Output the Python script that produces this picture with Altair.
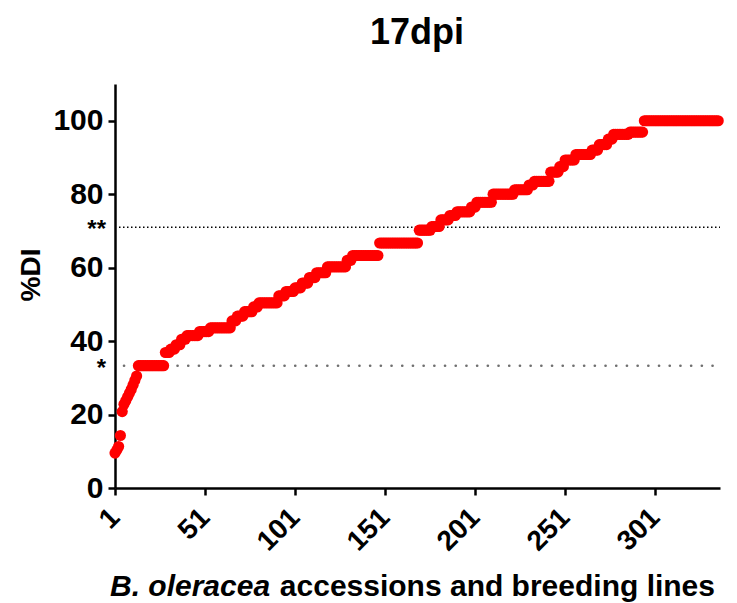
import altair as alt
import pandas as pd

# Sorted %DI values (value, count)
run_values = [9.5, 10.3, 11.3, 14.3, 20.8, 22.8, 23.8, 24.8, 25.8, 26.8, 28.0, 29.3, 30.5,
              33.3, 36.9, 37.8, 39.0, 40.5, 41.5, 42.6, 43.6, 45.5, 46.8, 48.0, 49.3,
              50.4, 52.3, 53.5, 54.5, 55.8, 57.3, 58.6, 60.2, 62.0, 63.3, 66.7,
              70.2, 71.2, 73.0, 74.2, 75.2, 76.5, 77.8, 80.0, 81.2, 82.5, 83.5,
              86.0, 87.5, 89.3, 90.8, 92.0, 93.5, 95.0, 96.3, 96.9, 100.0]
run_counts = [1, 1, 1, 1, 1, 1, 1, 1, 1, 1, 1, 1, 1,
              15, 3, 3, 3, 3, 7, 6, 12, 3, 4, 5, 3,
              11, 4, 5, 4, 4, 4, 6, 11, 3, 15, 22,
              7, 5, 5, 4, 8, 3, 9, 12, 8, 3, 9,
              5, 3, 6, 9, 4, 5, 3, 9, 8, 42]

x_ticks = [1, 51, 101, 151, 201, 251, 301]
y_ticks = [0, 20, 40, 60, 80, 100]
thresholds = [71.0, 33.3]
threshold_labels = ["**", "*"]

di = []
for v, c in zip(run_values, run_counts):
    di.extend([v] * c)
df = pd.DataFrame({"idx": list(range(1, len(di) + 1)), "di": di})

FONT = "Liberation Sans"
xs = alt.Scale(domain=[1, 337], nice=False, zero=False)
ys = alt.Scale(domain=[0, 110], nice=False)

points = alt.Chart(df).mark_circle(size=125, color="#FF0000", opacity=1).encode(
    x=alt.X("idx:Q", scale=xs,
            axis=alt.Axis(values=x_ticks, title=None, labelAngle=-45, labelAlign="right",
                          labelBaseline="middle", labelFontSize=28, labelPadding=18,
                          labelFlush=False, labelOverlap=False)),
    y=alt.Y("di:Q", scale=ys,
            axis=alt.Axis(values=y_ticks, title=None, labelFontSize=30, labelPadding=5)),
)

line2 = alt.Chart(pd.DataFrame({"y": [thresholds[0]]})).mark_rule(
    color="black", strokeWidth=1.3, strokeDash=[1.5, 2.5]
).encode(y=alt.Y("y:Q", scale=ys), x=alt.value(4), x2=alt.value(605))

line1 = alt.Chart(pd.DataFrame({"y": [thresholds[1]]})).mark_rule(
    color="#6f6f6f", strokeWidth=2.6, strokeDash=[0.1, 10.6], strokeCap="round"
).encode(y=alt.Y("y:Q", scale=ys), x=alt.value(9), x2=alt.value(605))

star_df = pd.DataFrame({"y": thresholds, "t": threshold_labels})
stars = alt.Chart(star_df).mark_text(
    font=FONT, fontSize=24, fontWeight="bold", align="right", baseline="middle", dy=3, color="black"
).encode(y=alt.Y("y:Q", scale=ys), x=alt.value(-9), text="t:N")

title = alt.Chart(pd.DataFrame({"t": ["17dpi"]})).mark_text(
    font=FONT, fontSize=36, fontWeight="bold", align="center", baseline="alphabetic", color="black"
).encode(x=alt.value(302), y=alt.value(-40), text="t:N")

ytitle = alt.Chart(pd.DataFrame({"t": ["%DI"]})).mark_text(
    font=FONT, fontSize=28, fontWeight="bold", align="center", baseline="middle", angle=270, color="black"
).encode(x=alt.value(-83), y=alt.value(191), text="t:N")

xt1 = alt.Chart(pd.DataFrame({"t": ["B. oleracea"]})).mark_text(
    font=FONT, fontSize=30, fontWeight="bold", fontStyle="italic", align="left",
    baseline="alphabetic", color="black"
).encode(x=alt.value(-5), y=alt.value(512), text="t:N")

xt2 = alt.Chart(pd.DataFrame({"t": ["accessions and breeding lines"]})).mark_text(
    font=FONT, fontSize=30, fontWeight="bold", align="right",
    baseline="alphabetic", color="black"
).encode(x=alt.value(600), y=alt.value(512), text="t:N")

chart = alt.layer(line1, line2, points, stars, title, ytitle, xt1, xt2).properties(
    width=605, height=404,
    autosize=alt.AutoSizeParams(type="none"),
    padding={"left": 115, "top": 84, "right": 17, "bottom": 115},
    background="white",
).configure_view(stroke=None).configure_axis(
    grid=False, domainColor="black", domainWidth=2.5, tickColor="black", tickWidth=2.5,
    tickSize=7, labelColor="black", labelFont=FONT, labelFontWeight="bold",
)

chart.save("out.html", embed_options={"renderer": "svg", "actions": False})
